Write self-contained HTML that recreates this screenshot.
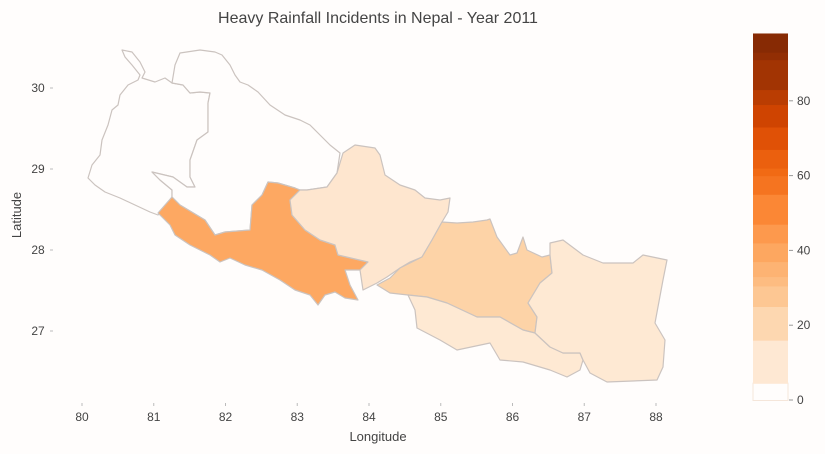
<!DOCTYPE html>
<html><head><meta charset="utf-8"><style>
body{margin:0;background:#fffdfc;}
svg{display:block;font-family:"Liberation Sans",sans-serif;}
</style></head><body>
<svg id="c" width="825" height="454">
<rect width="825" height="454" fill="#fffdfc"/>
<text x="378" y="23" text-anchor="middle" font-size="16" fill="#444">Heavy Rainfall Incidents in Nepal - Year 2011</text>
<g id="map"></g>
<g id="axes"></g>
<g id="cbar"></g>
<text x="378" y="441" text-anchor="middle" font-size="13" fill="#444">Longitude</text>
<text x="21" y="215" text-anchor="middle" font-size="13" fill="#444" transform="rotate(-90 21 215)">Latitude</text>
</svg>
<script>
const regionNames=["sudurpashchim","karnali","lumbini","gandaki","bagmati","province-2","province-1"];
const regionValues=[0,0,39,12,23,10,10];
const xTicks=[80,81,82,83,84,85,86,87,88];
const yTicks=[30,29,28,27];
const cbTicks=[0,20,40,60,80];
const cbEdges=[0,4.5,16,25,30.5,33,37,42,47,55,60,62,67,73,79,83,91,93,98];
const vmax=98;
const shapes=[
"122,50 132,52 140,62 145,72 142,78 155,82 165,78 172,83 183,85 190,93 200,92 210,93 208,103 208,132 197,140 190,160 190,177 195,187 187,187 173,177 152,172 160,180 172,190 172,197 158,215 150,212 135,205 120,198 105,192 95,185 88,178 92,165 100,155 102,140 108,125 112,110 118,105 120,95 128,85 138,80 140,75 132,65 125,57",
"172,83 175,65 180,53 200,50 215,52 222,55 230,65 235,75 240,82 248,85 258,92 270,105 285,115 300,120 310,125 320,135 330,145 340,153 337,173 327,187 307,190 300,190 295,188 278,183 268,182 262,195 252,205 250,230 225,232 215,235 205,220 180,205 172,197 172,190 160,180 152,172 173,177 187,187 195,187 190,177 190,160 197,140 208,132 208,103 210,93 200,92 190,93 183,85",
"158,213 172,197 180,205 205,220 215,235 225,232 250,230 252,205 262,195 268,182 278,183 295,188 300,190 290,200 292,215 305,230 320,240 335,245 338,255 368,262 360,270 345,270 350,285 358,300 345,298 335,292 325,295 318,305 310,295 295,290 280,280 262,270 245,265 230,258 220,262 210,255 190,245 175,235 170,225",
"300,190 307,190 327,187 337,173 343,153 355,145 375,148 380,155 385,175 400,185 415,190 425,198 440,200 450,198 448,212 442,222 432,240 422,257 410,262 400,268 387,277 377,283 363,290 360,270 368,262 338,255 335,245 320,240 305,230 292,215 290,200",
"377,285 390,278 400,268 422,257 432,240 442,222 457,223 473,222 487,220 490,219 497,237 510,255 517,253 523,237 527,250 542,257 550,255 552,273 540,283 528,303 537,317 535,333 523,330 500,317 477,317 447,303 427,297 408,295 390,293",
"408,295 427,297 447,303 477,317 500,317 523,330 535,333 550,347 563,353 580,353 583,360 580,370 567,377 550,370 523,362 500,360 490,343 457,350 440,340 417,328 415,310",
"552,273 550,255 550,243 563,240 583,255 603,263 633,263 643,255 667,260 663,280 655,323 665,340 663,367 657,380 607,382 590,373 583,360 580,353 563,353 550,347 535,333 537,317 528,303 540,283"
];
const stops=[[0,"#fff5eb"],[.125,"#fee6ce"],[.25,"#fdd0a2"],[.375,"#fdae6b"],[.5,"#fd8d3c"],[.625,"#f16913"],[.75,"#d94801"],[.875,"#a63603"],[1,"#7f2704"]];
function hex(h){return [1,3,5].map(i=>parseInt(h.substr(i,2),16));}
function color(v){let t=Math.max(0,Math.min(1,v/vmax));if(v<=0)return "#fffdfc";
 for(let i=1;i<stops.length;i++){if(t<=stops[i][0]){const a=hex(stops[i-1][1]),b=hex(stops[i][1]);const f=(t-stops[i-1][0])/(stops[i][0]-stops[i-1][0]);return "rgb("+a.map((x,k)=>Math.round(x+(b[k]-x)*f)).join(",")+")";}}return stops[8][1];}
const xs=lon=>82+(lon-80)*71.75;
const ys=lat=>88+(30-lat)*81;
const cy=v=>400-v*3.74;
const NS="http://www.w3.org/2000/svg";
function mk(tag,attrs,parent){const e=document.createElementNS(NS,tag);for(const k in attrs)e.setAttribute(k,attrs[k]);parent.appendChild(e);return e;}
const map=document.getElementById("map");
regionNames.forEach((n,i)=>{
 const p=mk("polygon",{points:shapes[i],fill:color(regionValues[i]),stroke:"#cbc3bf","stroke-width":"1.2","stroke-linejoin":"round"},map);
 
 
});
const ax=document.getElementById("axes");
xTicks.forEach(v=>{
 mk("line",{x1:xs(v),x2:xs(v),y1:403,y2:406,stroke:"#bbb","stroke-width":"1"},ax);
 const t=mk("text",{x:xs(v),y:421,"text-anchor":"middle","font-size":"12",fill:"#444"},ax);t.textContent=v;
 
 
});
yTicks.forEach(v=>{
 mk("line",{x1:50,x2:53,y1:ys(v),y2:ys(v),stroke:"#bbb","stroke-width":"1"},ax);
 const t=mk("text",{x:38,y:ys(v)+4,"text-anchor":"middle","font-size":"12",fill:"#444"},ax);t.textContent=v;
 
 
});
const cb=document.getElementById("cbar");
for(let i=0;i<cbEdges.length-1;i++){
 const mid=(cbEdges[i]+cbEdges[i+1])/2;
 const r=mk("rect",{x:753,y:cy(cbEdges[i+1]),width:35,height:cy(cbEdges[i])-cy(cbEdges[i+1])+0.5,fill:color(i==0?0:mid)},cb);
 if(i==0){r.setAttribute("stroke","#f5e6da");r.setAttribute("stroke-width","1");}
 
 
}
cbTicks.forEach(v=>{
 mk("line",{x1:789,x2:793,y1:cy(v),y2:cy(v),stroke:"#999","stroke-width":"1"},cb);
 const t=mk("text",{x:797,y:cy(v)+4,"font-size":"12",fill:"#444"},cb);t.textContent=v;
 
 
});
</script>
</body></html>
